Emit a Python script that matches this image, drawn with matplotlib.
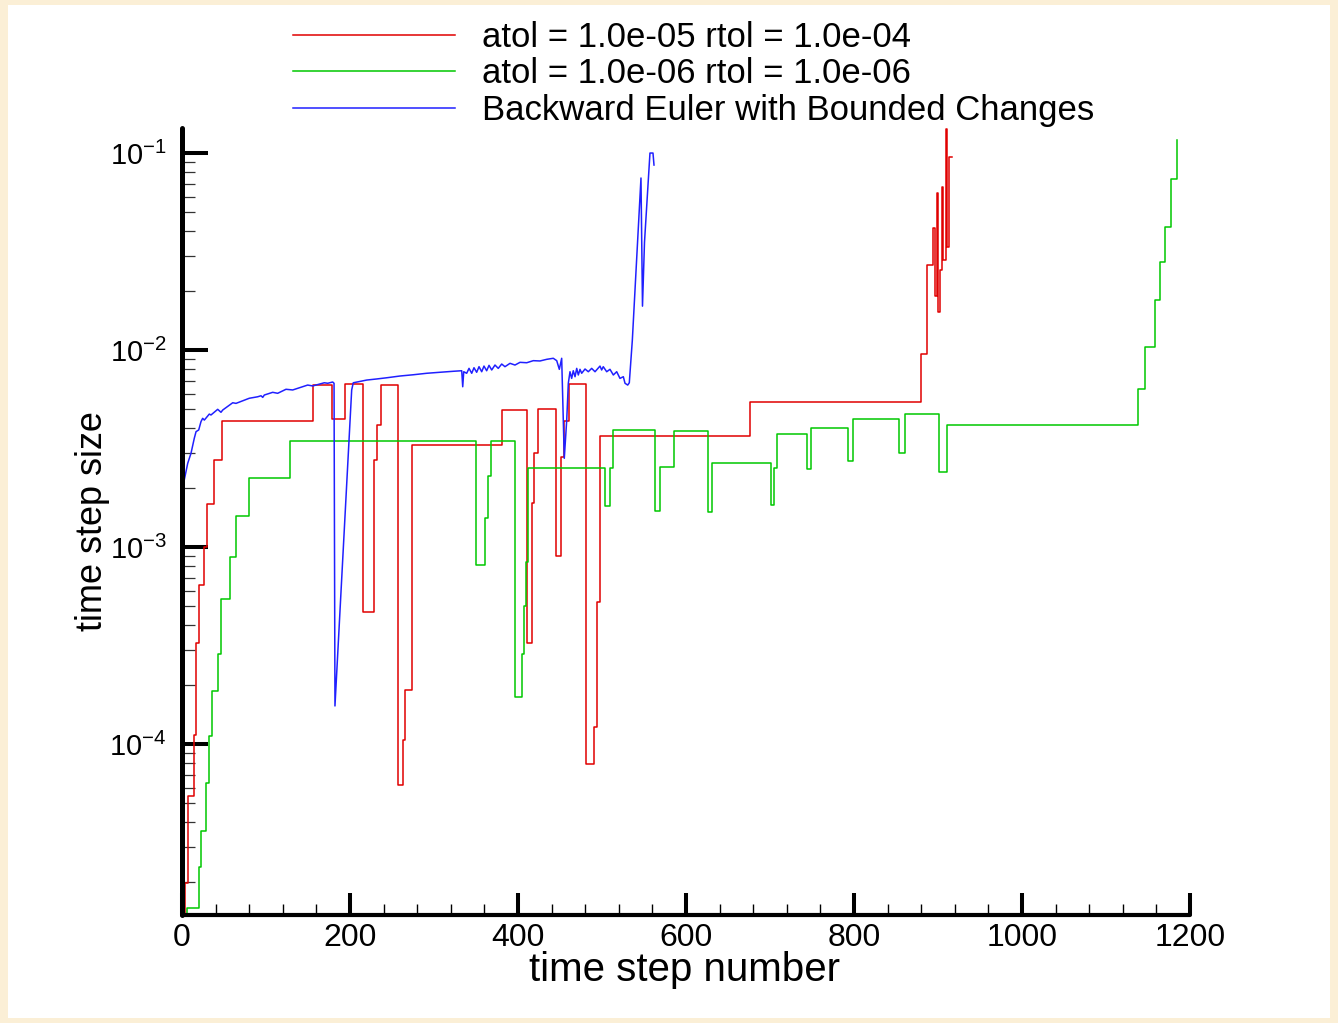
import matplotlib
matplotlib.use("Agg")
import matplotlib.pyplot as plt
from matplotlib.patches import Rectangle
from matplotlib.ticker import LogLocator, MultipleLocator, NullFormatter

plt.rcParams["font.family"] = ["Liberation Sans", "DejaVu Sans"]
plt.rcParams["mathtext.fontset"] = "custom"
plt.rcParams["mathtext.rm"] = "Liberation Sans"
plt.rcParams["mathtext.it"] = "Liberation Sans:italic"
plt.rcParams["mathtext.bf"] = "Liberation Sans:bold"

# atol = 1e-5, rtol = 1e-4 (step starts / values, drawn as steps-post)
red_x = [3.0, 3.6, 7.5, 14.3, 16.7, 20.2, 26.5, 30.1, 38.1, 48.0, 156.0,
         178.0, 194.0, 216.0, 228.5, 231.8, 236.5, 257.0, 262.5, 265.5,
         273.8, 380.6, 410.7, 416.3, 419.0, 424.0, 445.5, 451.0, 454.8,
         460.7, 481.5, 490.5, 494.0, 498.2, 676.2, 879.8, 886.5, 893.7,
         896.1, 898.8, 900.4, 902.0, 904.4, 906.3, 909.2, 911.1, 913.1, 916.3]
red_y = [1.0e-5, 1.97e-5, 5.45e-5, 1.11e-4, 3.24e-4, 6.41e-4, 1.0e-3,
         1.65e-3, 2.77e-3, 4.36e-3, 6.64e-3, 4.49e-3, 6.72e-3, 4.68e-4,
         2.77e-3, 4.16e-3, 6.64e-3, 6.19e-5, 1.05e-4, 1.88e-4, 3.30e-3,
         4.96e-3, 3.26e-4, 1.67e-3, 3.0e-3, 5.04e-3, 9.0e-4, 2.86e-3,
         4.36e-3, 6.72e-3, 7.91e-5, 1.22e-4, 5.26e-4, 3.66e-3, 5.47e-3,
         9.55e-3, 2.70e-2, 4.16e-2, 1.87e-2, 6.29e-2, 1.56e-2, 2.55e-2,
         6.74e-2, 2.86e-2, 0.133, 3.34e-2, 9.58e-2, 9.58e-2]

# atol = 1e-6, rtol = 1e-6
green_x = [5.0, 5.6, 20.6, 22.6, 28.6, 32.5, 35.4, 43.2, 46.4, 57.1, 63.9,
           79.8, 128.9, 349.5, 360.5, 364.0, 367.3, 397.0, 404.4, 406.8,
           409.5, 412.0, 503.5, 510.0, 513.5, 563.0, 568.8, 585.5, 626.0,
           630.5, 700.8, 704.8, 708.3, 744.5, 748.8, 793.0, 798.8, 853.3,
           860.5, 900.6, 910.7, 1137.5, 1146.4, 1158.3, 1164.3, 1170.2,
           1177.0, 1184.2]
green_y = [1.0e-5, 1.47e-5, 2.37e-5, 3.63e-5, 6.37e-5, 1.10e-4, 1.85e-4,
           2.85e-4, 5.47e-4, 8.87e-4, 1.44e-3, 2.25e-3, 3.47e-3, 8.11e-4,
           1.41e-3, 2.30e-3, 3.47e-3, 1.74e-4, 2.86e-4, 5.04e-4, 8.4e-4,
           2.53e-3, 1.62e-3, 2.51e-3, 3.91e-3, 1.52e-3, 2.54e-3, 3.86e-3,
           1.5e-3, 2.67e-3, 1.63e-3, 2.51e-3, 3.75e-3, 2.49e-3, 4.0e-3,
           2.72e-3, 4.45e-3, 2.99e-3, 4.72e-3, 2.41e-3, 4.16e-3, 6.32e-3,
           1.04e-2, 1.79e-2, 2.80e-2, 4.23e-2, 7.38e-2, 0.116]

# Backward Euler with bounded changes
blue_x = [2.7, 6.8, 10.7, 14.6, 16.7, 19.9, 22.6, 24.6, 26.6, 32.5,
          34.5, 42.5, 46.4, 48.5, 60.4, 64.3, 80.1, 90.1, 94.1, 96.1,
          98.0, 108.0, 113.9, 123.8, 131.8, 149.6, 155.6, 169.4, 173.5, 179.4,
          181.0, 182.1, 202.0, 203.9, 209.9, 219.9, 231.8, 243.7, 259.5, 275.4,
          291.3, 307.1, 323.0, 333.0, 334.2, 335.4, 338.9, 341.7, 344.9, 347.6,
          350.8, 353.6, 356.8, 359.5, 362.7, 365.5, 368.7, 372.6, 376.5, 380.6,
          384.5, 390.5, 396.4, 402.4, 410.4, 418.2, 426.2, 434.2, 442.0, 446.1,
          449.2, 452.0, 455.1, 458.0, 459.9, 461.9, 463.9, 465.8, 467.9, 469.9,
          471.8, 473.8, 475.8, 479.8, 483.7, 487.7, 491.7, 497.6, 499.6, 501.5,
          505.6, 509.5, 513.5, 517.5, 521.4, 525.4, 527.4, 530.6, 532.5, 536.1,
          546.4, 548.2, 550.6, 557.1, 560.7, 561.9]
blue_y = [2.19e-3, 2.66e-3, 2.99e-3, 3.56e-3, 3.85e-3, 3.93e-3, 4.33e-3, 4.50e-3, 4.41e-3, 4.73e-3,
          4.68e-3, 5.00e-3, 4.83e-3, 4.96e-3, 5.40e-3, 5.36e-3, 5.69e-3, 5.79e-3, 5.86e-3, 5.75e-3,
          5.91e-3, 6.10e-3, 6.03e-3, 6.32e-3, 6.27e-3, 6.64e-3, 6.57e-3, 6.82e-3, 6.78e-3, 6.88e-3,
          6.78e-3, 1.56e-4, 6.27e-3, 6.82e-3, 6.90e-3, 7.04e-3, 7.13e-3, 7.23e-3, 7.38e-3, 7.49e-3,
          7.62e-3, 7.71e-3, 7.80e-3, 7.85e-3, 6.51e-3, 7.76e-3, 7.62e-3, 8.07e-3, 7.62e-3, 8.13e-3,
          7.71e-3, 8.23e-3, 7.76e-3, 8.29e-3, 7.85e-3, 8.36e-3, 7.92e-3, 8.39e-3, 8.07e-3, 8.49e-3,
          8.23e-3, 8.56e-3, 8.39e-3, 8.66e-3, 8.62e-3, 8.83e-3, 8.80e-3, 8.97e-3, 9.08e-3, 8.83e-3,
          7.98e-3, 9.08e-3, 2.82e-3, 4.41e-3, 6.78e-3, 7.76e-3, 7.18e-3, 7.85e-3, 7.32e-3, 8.07e-3,
          7.47e-3, 7.98e-3, 7.62e-3, 8.01e-3, 7.76e-3, 8.07e-3, 7.76e-3, 8.29e-3, 7.92e-3, 8.23e-3,
          7.76e-3, 7.98e-3, 7.47e-3, 7.76e-3, 7.18e-3, 7.32e-3, 6.78e-3, 6.64e-3, 6.82e-3, 1.12e-2,
          7.47e-2, 1.67e-2, 3.53e-2, 0.1, 0.1, 8.69e-2]

labels = [
    "atol = 1.0e-05 rtol = 1.0e-04",
    "atol = 1.0e-06 rtol = 1.0e-06",
    "Backward Euler with Bounded Changes",
]

W, H = 1338, 1023
fig = plt.figure(figsize=(W / 100, H / 100), dpi=100, facecolor="#FBEFD6")
fig.patches.append(Rectangle((8 / W, 5 / H), (1330 - 8) / W, (1018 - 5) / H,
                             transform=fig.transFigure, facecolor="white",
                             edgecolor="none", zorder=-10))

ax = fig.add_axes([182 / W, (H - 915) / H, 1008 / W, (915 - 128) / H])
ax.set_facecolor("white")

lw = 1.1
ax.plot(red_x, red_y, drawstyle="steps-post", color="#E00000", lw=lw, label=labels[0])
ax.plot(green_x, green_y, drawstyle="steps-post", color="#00C800", lw=lw, label=labels[1])
ax.plot(blue_x, blue_y, color="#2020FF", lw=lw, label=labels[2])

ax.set_yscale("log")
ax.set_xlim(0, 1200)
ax.set_ylim(1.355e-5, 0.134)

ax.xaxis.set_major_locator(MultipleLocator(200))
ax.xaxis.set_minor_locator(MultipleLocator(40))
ax.yaxis.set_major_locator(LogLocator(base=10, numticks=10))
ax.yaxis.set_minor_locator(LogLocator(base=10, subs=range(2, 10), numticks=20))
ax.yaxis.set_minor_formatter(NullFormatter())

for side in ("top", "right"):
    ax.spines[side].set_visible(False)
ax.spines["left"].set_linewidth(3.6)
ax.spines["bottom"].set_linewidth(3.0)
for side in ("left", "bottom"):
    ax.spines[side].set_capstyle("round")

ax.tick_params(axis="y", which="major", direction="in", length=18.7, width=2.9,
               pad=11, labelsize=21)
ax.tick_params(axis="y", which="minor", direction="in", length=9.4, width=0.9,
               color="#333333")
ax.tick_params(axis="x", which="major", direction="in", length=16, width=2.9,
               pad=6, labelsize=23)
ax.tick_params(axis="x", which="minor", direction="in", length=8, width=1.0)

ax.set_xlabel("time step number", fontsize=29)
ax.xaxis.set_label_coords(0.499, -0.046)
ax.set_ylabel("time step size", fontsize=26)
ax.yaxis.set_label_coords(-0.071, 0.5006)

fs = 25
em = fs * 100 / 72
ax.legend(loc="upper left", bbox_to_anchor=(293 / W, 1 - 21 / H),
          bbox_transform=fig.transFigure, frameon=False, fontsize=fs,
          handlelength=162 / em, handletextpad=27 / em,
          labelspacing=0.1, borderpad=0, borderaxespad=0)

fig.savefig("out.png", dpi=100, facecolor=fig.get_facecolor())
